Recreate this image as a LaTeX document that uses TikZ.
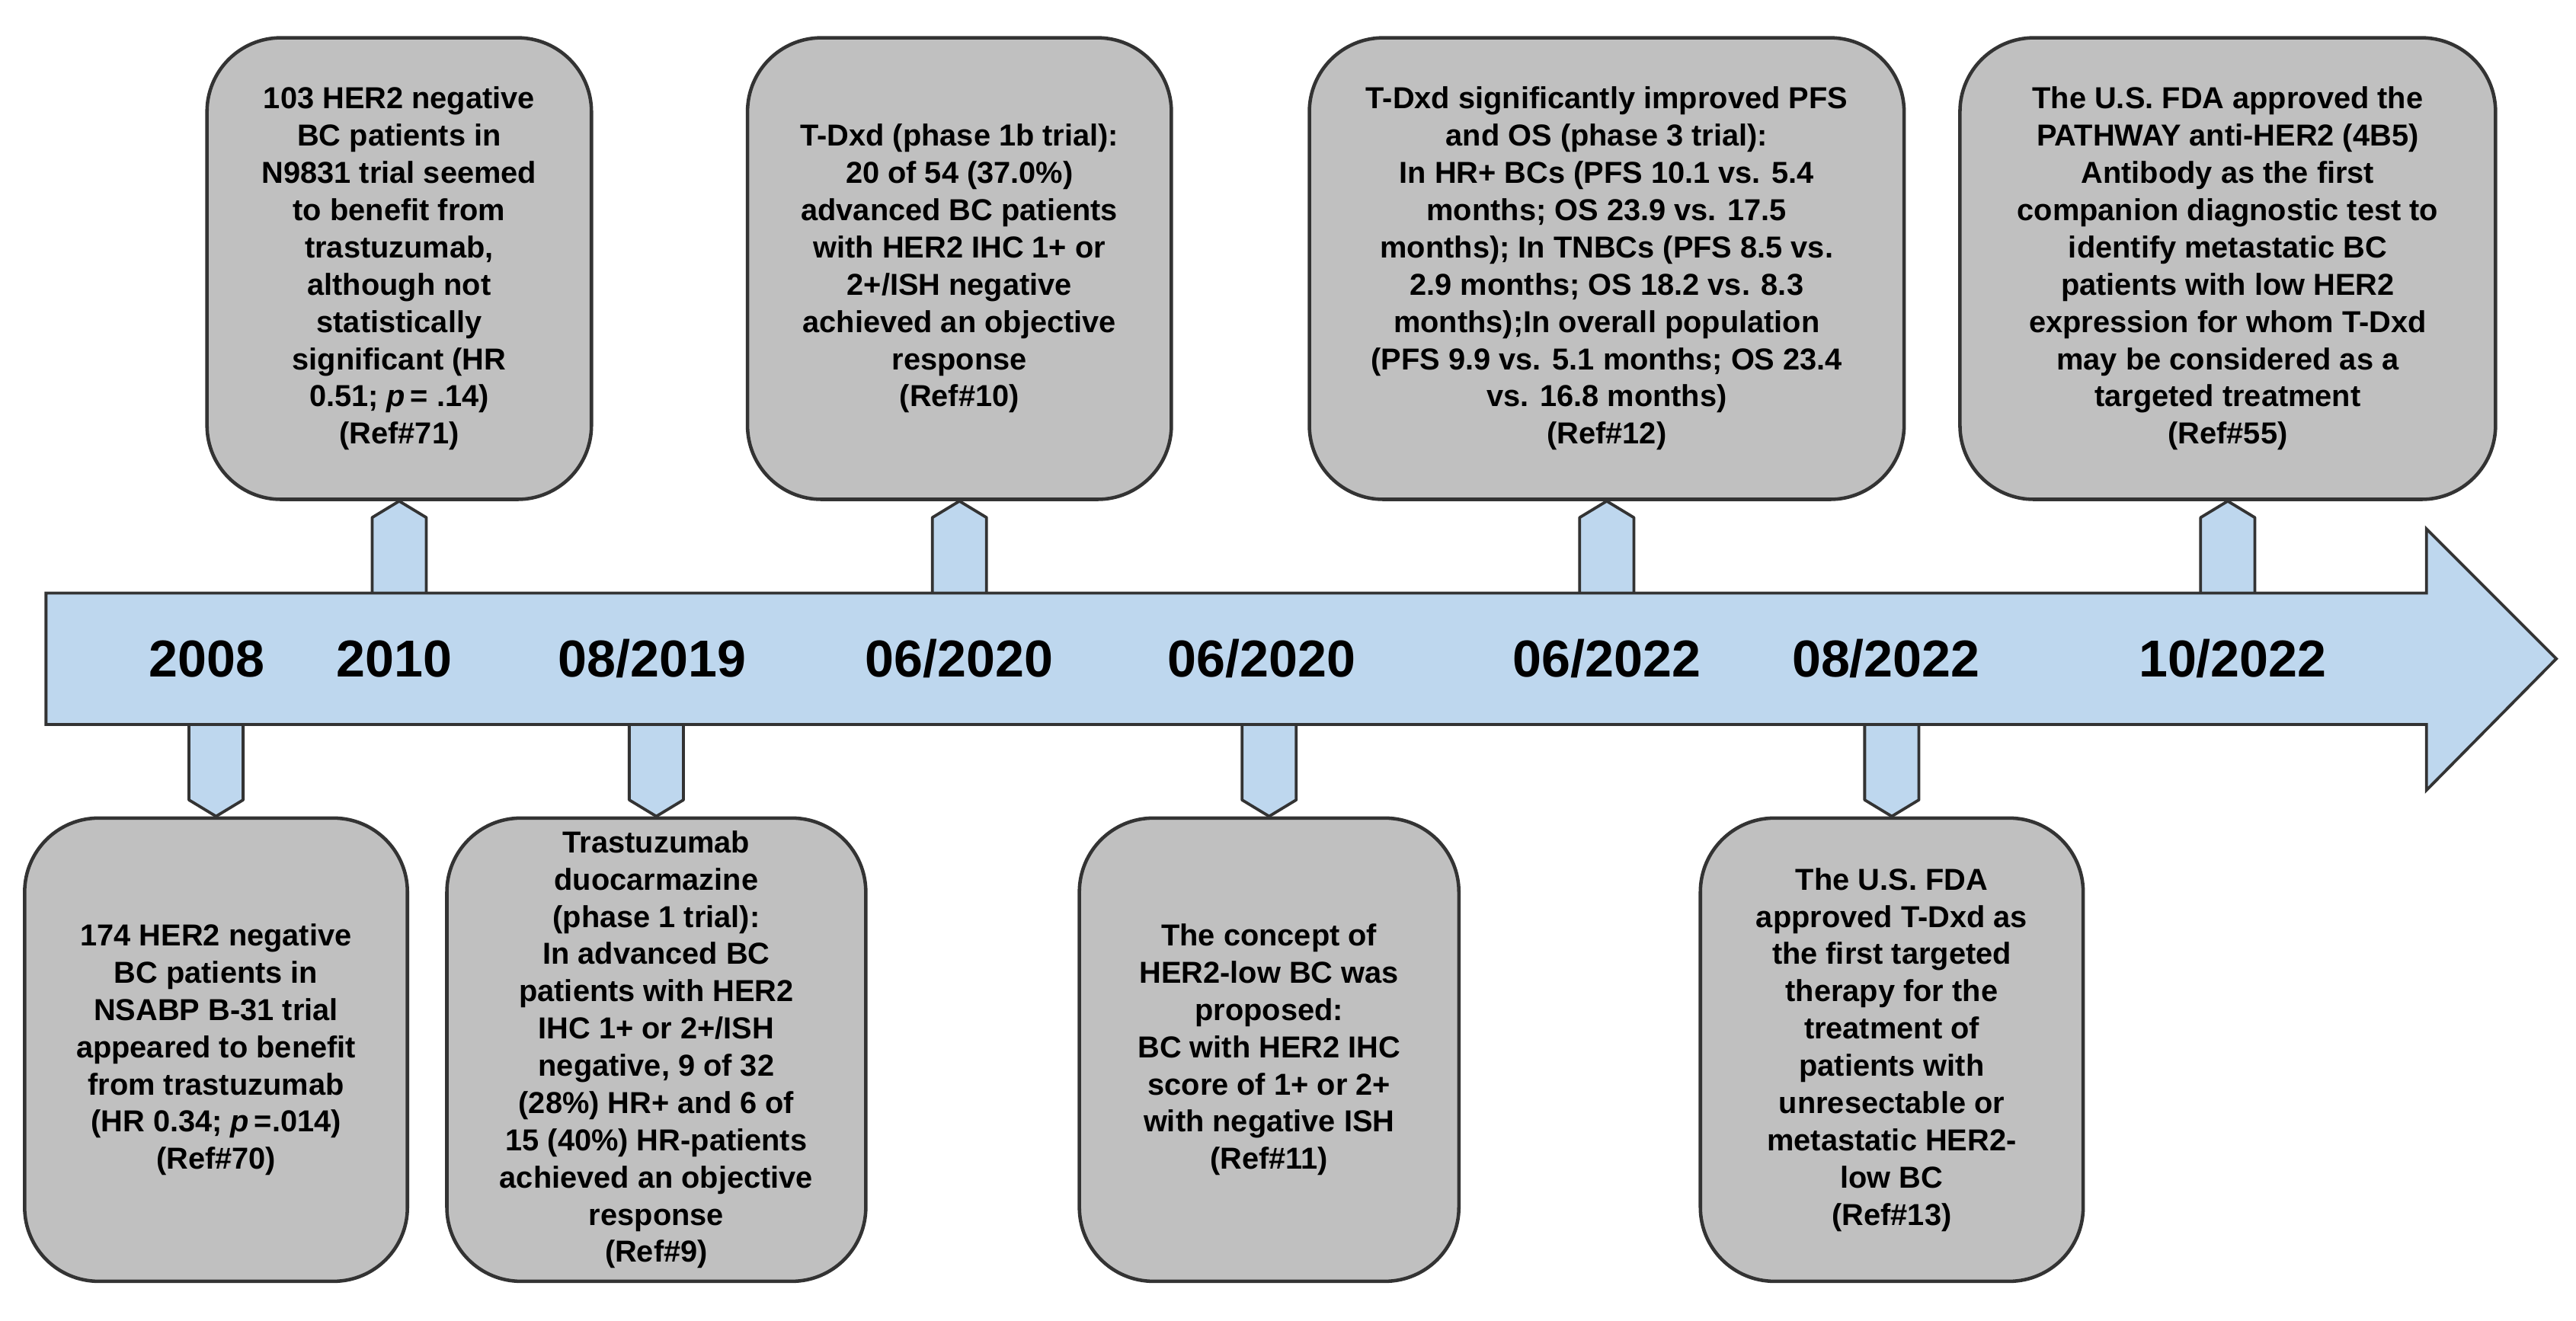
\documentclass[tikz,border=0pt]{standalone}
\usepackage{fontspec}
\setmainfont{Liberation Sans}
\usepackage{tikz}
\usetikzlibrary{positioning}
\definecolor{boxgray}{RGB}{192,192,192}
\definecolor{lineblue}{RGB}{190,215,238}

\begin{document}
\begin{tikzpicture}[event node/.style={rectangle,rounded corners=0.9cm,draw=black!80,line width=1.2pt,fill=boxgray,
                    align=center,inner sep=2pt,font=\fontsize{10.5}{12.9}\selectfont\bfseries},
                    year node/.style={font=\fontsize{18}{20}\selectfont\bfseries},
                    pointer/.style={draw=black!80,line width=1pt,fill=lineblue,line join=round}]
  \useasboundingbox (0,0) rectangle (31.36,-16.08);

  % events above the line
  \node[event node,minimum width=4.68cm,minimum height=5.62cm] (e71) at (4.86,-3.27)
    {103 HER2 negative\\BC patients in\\N9831 trial seemed\\to benefit from\\trastuzumab,\\although not\\statistically\\significant (HR\\0.51; \textit{p}\,= .14)\\(Ref\#71)};
  \node[event node,minimum width=5.16cm,minimum height=5.62cm] (e10) at (11.68,-3.27)
    {T-Dxd (phase 1b trial):\\20 of 54 (37.0\%)\\advanced BC patients\\with HER2 IHC 1+ or\\2+/ISH negative\\achieved an objective\\response\\(Ref\#10)};
  \node[event node,minimum width=7.24cm,minimum height=5.62cm] (e12) at (19.56,-3.27)
    {T-Dxd significantly improved PFS\\and OS (phase 3 trial):\\In HR+ BCs (PFS 10.1 vs. 5.4\\months; OS 23.9 vs. 17.5\\months); In TNBCs (PFS 8.5 vs.\\2.9 months; OS 18.2 vs. 8.3\\months);In overall population\\(PFS 9.9 vs. 5.1 months; OS 23.4\\vs. 16.8 months)\\(Ref\#12)};
  \node[event node,minimum width=6.52cm,minimum height=5.62cm] (e55) at (27.12,-3.27)
    {The U.S. FDA approved the\\PATHWAY anti-HER2 (4B5)\\Antibody as the first\\companion diagnostic test to\\identify metastatic BC\\patients with low HER2\\expression for whom T-Dxd\\may be considered as a\\targeted treatment\\(Ref\#55)};

  % events below the line
  \node[event node,minimum width=4.66cm,minimum height=5.64cm] (e70) at (2.63,-12.78)
    {174 HER2 negative\\BC patients in\\NSABP B-31 trial\\appeared to benefit\\from trastuzumab\\(HR 0.34; \textit{p}\,=.014)\\(Ref\#70)};
  \node[event node,minimum width=5.1cm,minimum height=5.64cm] (e9) at (7.99,-12.78)
    {Trastuzumab\\duocarmazine\\(phase 1 trial):\\In advanced BC\\patients with HER2\\IHC 1+ or 2+/ISH\\negative, 9 of 32\\(28\%) HR+ and 6 of\\15 (40\%) HR-patients\\achieved an objective\\response\\(Ref\#9)};
  \node[event node,minimum width=4.62cm,minimum height=5.64cm] (e11) at (15.45,-12.78)
    {The concept of\\HER2-low BC was\\proposed:\\BC with HER2 IHC\\score of 1+ or 2+\\with negative ISH\\(Ref\#11)};
  \node[event node,minimum width=4.66cm,minimum height=5.64cm] (e13) at (23.03,-12.78)
    {The U.S. FDA\\approved T-Dxd as\\the first targeted\\therapy for the\\treatment of\\patients with\\unresectable or\\metastatic HER2-\\low BC\\(Ref\#13)};

  % pointers
  \foreach \e in {e71,e10,e12,e55}
    \draw[pointer] (\e.south) -- ++(0.33,-0.2) -- ++(0,-1.05) -- ++(-0.66,0) -- ++(0,1.05) -- cycle;
  \foreach \e in {e70,e9,e11,e13}
    \draw[pointer] (\e.north) -- ++(0.33,0.2) -- ++(0,1.05) -- ++(-0.66,0) -- ++(0,-1.05) -- cycle;

  % time line
  \draw[pointer,line join=miter] (0.56,-7.22) -- (29.54,-7.22) -- (29.54,-6.44) -- (31.12,-8.02)
    -- (29.54,-9.62) -- (29.54,-8.82) -- (0.56,-8.82) -- cycle;

  \node[year node] (y2008) at (2.52,-8.02) {2008};
  \node[year node] (y2010) at (4.80,-8.02) {2010};
  \node[year node] (y0819) at (7.94,-8.02) {08/2019};
  \node[year node] (y0620a) at (11.68,-8.02) {06/2020};
  \node[year node] (y0620b) at (15.36,-8.02) {06/2020};
  \node[year node] (y0622) at (19.56,-8.02) {06/2022};
  \node[year node] (y0822) at (22.96,-8.02) {08/2022};
  \node[year node] (y1022) at (27.18,-8.02) {10/2022};
\end{tikzpicture}
\end{document}
